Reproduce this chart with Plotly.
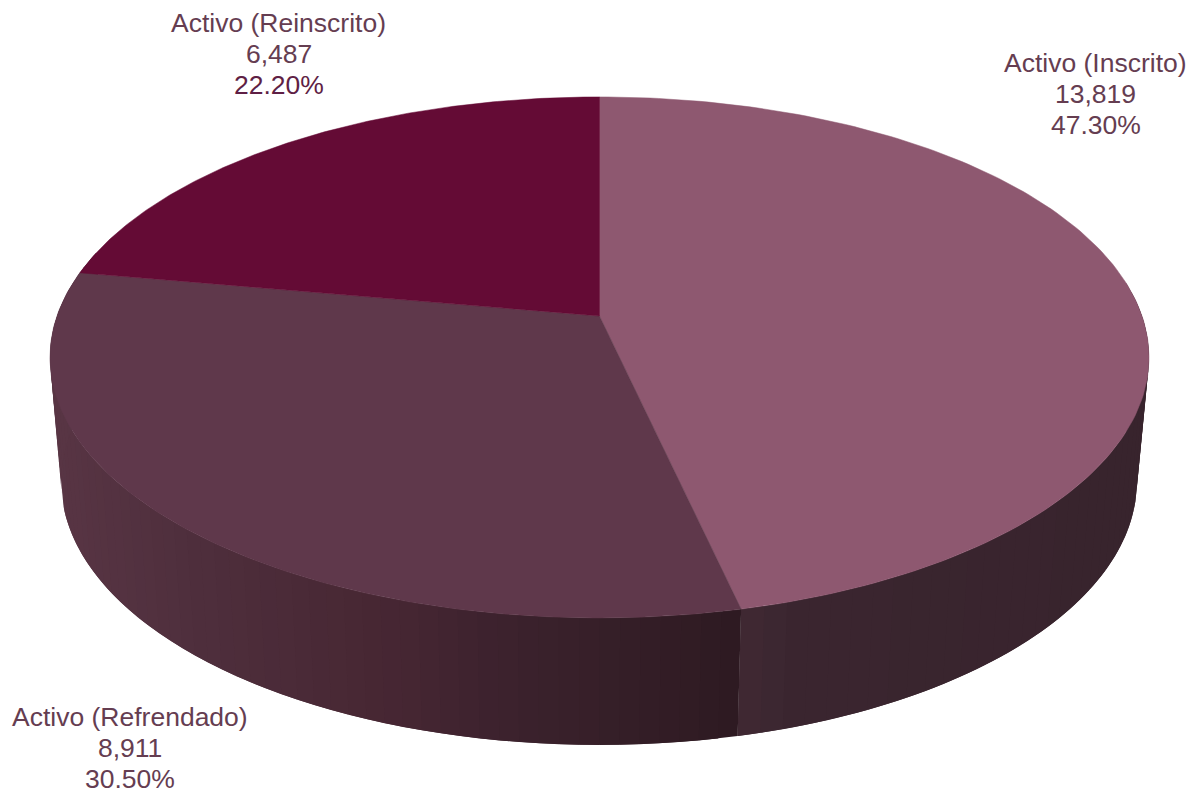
import numpy as np
import plotly.graph_objects as go

categories = ["Activo (Inscrito)", "Activo (Refrendado)", "Activo (Reinscrito)"]
values = [13819, 8911, 6487]

top_colors = ["#8e5870", "#5f384b", "#640b35"]
label_color = ["#653d51", "#653d51", "#653d51"]
label_pct = ["#653d51", "#653d51", "#5f1f45"]
label_x = [1095.5, 129.5, 278.5]
label_y = [(63, 94, 125), (717, 748, 779), (23, 54, 85)]

# perspective parameters of the disc, in screen pixels
K = 0.159
TOP = dict(cx=599.5, cy=316, bx=542.5, by=253.9)
BOT = dict(cx=599, cy=440, bx=531, by=256.5)

# side wall shading by screen x
left_x = [50, 200, 400, 500, 600, 735]
left_rgb = [(88, 53, 68), (78, 46, 60), (70, 38, 50), (60, 34, 45), (54, 31, 41), (46, 26, 34)]
right_x = [737, 800, 1148]
right_rgb = [(64, 41, 51), (58, 37, 47), (56, 36, 45)]


def warp(deg):
    d = np.asarray(deg, dtype=float)
    return np.where(d < 280, d - 3.2 * np.sin(d / 280 * np.pi), d)


def rim(deg, g):
    t = np.radians(warp(deg))
    X, Y = np.sin(t), np.cos(t)
    w = 1 + K * Y
    return g["cx"] + g["bx"] * X / w, g["cy"] - g["by"] * Y / w


def shade(x, xs, rgbs):
    c = [np.interp(x, xs, [r[i] for r in rgbs]) for i in range(3)]
    return "rgb(%d,%d,%d)" % tuple(int(round(v)) for v in c)


total = sum(values)
edges = np.concatenate([[0], np.cumsum(values) / total * 360])

fig = go.Figure()


def wall(a, b, n, xs, rgbs):
    # each band overlaps the next one, so no seam shows between them
    grid = np.linspace(a, b, n + 1)
    for i in range(n):
        s = np.linspace(grid[i], grid[min(i + 2, n)], 5)
        tx, ty = rim(s, TOP)
        bx, by = rim(s[::-1], BOT)
        col = shade(float(rim(grid[i : i + 2], TOP)[0].mean()), xs, rgbs)
        fig.add_trace(go.Scatter(
            x=np.concatenate([tx, bx, tx[:1]]), y=np.concatenate([ty, by, ty[:1]]),
            mode="lines", fill="toself", fillcolor=col,
            line=dict(width=0), hoverinfo="skip", showlegend=False))


wall(85, edges[1], 40, right_x, right_rgb)
wall(edges[1], 285, 64, left_x, left_rgb)

for i, name in enumerate(categories):
    s = np.linspace(edges[i], edges[i + 1], 160)
    x, y = rim(s, TOP)
    fig.add_trace(go.Scatter(
        x=np.concatenate([[TOP["cx"]], x, [TOP["cx"]]]),
        y=np.concatenate([[TOP["cy"]], y, [TOP["cy"]]]),
        mode="lines", fill="toself", fillcolor=top_colors[i],
        line=dict(color=top_colors[i], width=0.5),
        name=name, text=name, hoverinfo="text", showlegend=False))

annotations = []
for i, name in enumerate(categories):
    pct = values[i] / total * 100
    rows = [(name, label_color[i]), (f"{values[i]:,}", label_color[i]), (f"{pct:.2f}%", label_pct[i])]
    for (txt, col), yy in zip(rows, label_y[i]):
        annotations.append(dict(x=label_x[i], y=yy, text=txt, showarrow=False,
                                xanchor="center", yanchor="middle",
                                font=dict(family="Liberation Sans", size=26.5, color=col)))

fig.update_layout(
    width=1198, height=793, margin=dict(l=0, r=0, t=0, b=0),
    paper_bgcolor="white", plot_bgcolor="white", annotations=annotations,
    xaxis=dict(range=[0, 1198], visible=False, fixedrange=True),
    yaxis=dict(range=[793, 0], visible=False, fixedrange=True),
)
fig.write_html("out.html", config=dict(displayModeBar=False),
               post_script="document.body.style.margin='0';")
